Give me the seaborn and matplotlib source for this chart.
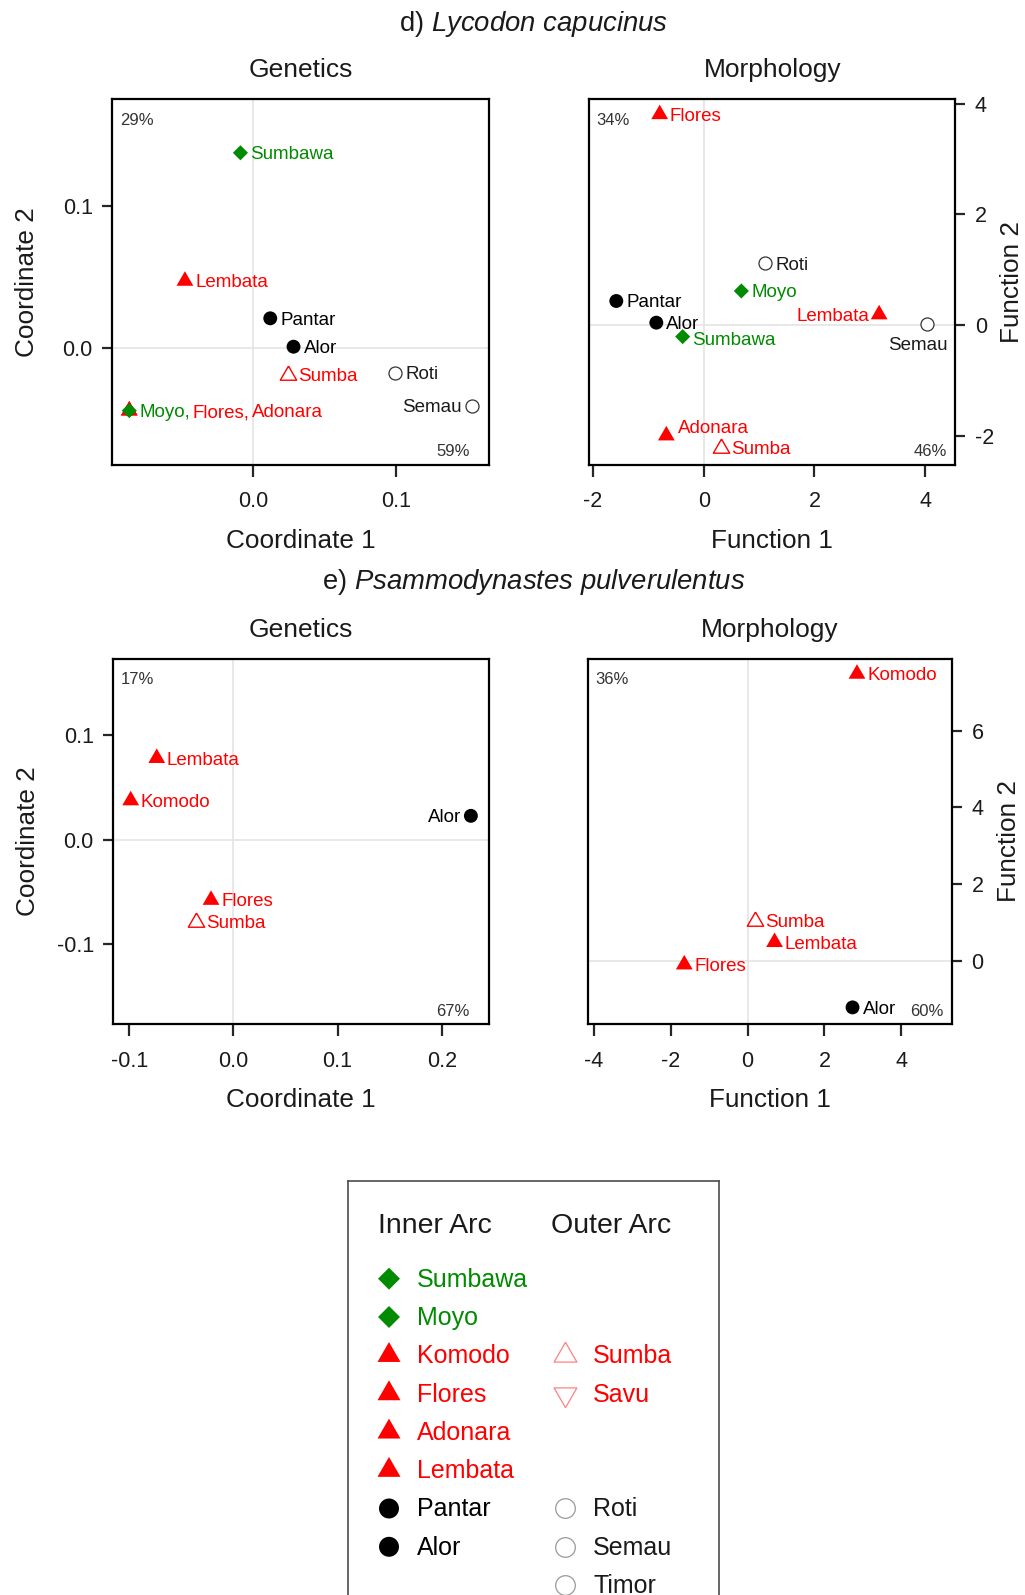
import matplotlib
matplotlib.use("Agg")
import matplotlib.pyplot as plt
from matplotlib.ticker import FormatStrFormatter
import numpy as np
import pandas as pd
import seaborn as sns

# ---------------------------------------------------------------- data
# d) Lycodon capucinus - genetics (PCoA)
lyc_gen_sites = ["Sumbawa", "Moyo", "Flores", "Adonara", "Lembata", "Pantar",
                 "Alor", "Sumba", "Roti", "Semau"]
lyc_gen_x = [-0.009, -0.0869, -0.0869, -0.0869, -0.0479, 0.0119,
             0.0282, 0.024, 0.0995, 0.1534]
lyc_gen_y = [0.137, -0.0437, -0.0437, -0.0437, 0.0472, 0.021,
             0.0011, -0.0187, -0.0171, -0.0402]
lyc_gen_pct = ["29%", "59%"]

# d) Lycodon capucinus - morphology (DFA)
lyc_mor_sites = ["Flores", "Roti", "Moyo", "Pantar", "Lembata", "Alor",
                 "Semau", "Sumbawa", "Adonara", "Sumba"]
lyc_mor_x = [-0.795, 1.113, 0.68, -1.579, 3.17, -0.856, 4.04, -0.38, -0.675, 0.318]
lyc_mor_y = [3.81, 1.115, 0.615, 0.434, 0.19, 0.042, 0.012, -0.21, -2.0, -2.22]
lyc_mor_pct = ["34%", "46%"]

# e) Psammodynastes pulverulentus - genetics (PCoA)
psa_gen_sites = ["Lembata", "Komodo", "Alor", "Flores", "Sumba"]
psa_gen_x = [-0.0735, -0.0985, 0.228, -0.0214, -0.0358]
psa_gen_y = [0.0782, 0.0377, 0.023, -0.0575, -0.0783]
psa_gen_pct = ["17%", "67%"]

# e) Psammodynastes pulverulentus - morphology (DFA)
psa_mor_sites = ["Komodo", "Sumba", "Lembata", "Flores", "Alor"]
psa_mor_x = [2.846, 0.18, 0.70, -1.65, 2.73]
psa_mor_y = [7.475, 1.06, 0.496, -0.087, -1.2]
psa_mor_pct = ["36%", "60%"]

# islands, arc membership and symbol group
island_names = ["Sumbawa", "Moyo", "Komodo", "Flores", "Adonara", "Lembata",
                "Pantar", "Alor", "Sumba", "Savu", "Roti", "Semau", "Timor"]
island_arc = ["Inner", "Inner", "Inner", "Inner", "Inner", "Inner",
              "Inner", "Inner", "Outer", "Outer", "Outer", "Outer", "Outer"]
island_group = ["diamond", "diamond", "triangle", "triangle", "triangle", "triangle",
                "circle", "circle", "open_triangle", "open_down",
                "open_circle", "open_circle", "open_circle"]

legend_inner_rows = [0, 1, 2, 3, 4, 5, 6, 7]
legend_outer_rows = [2, 3, 6, 7, 8]

# ---------------------------------------------------------------- style
sns.set_theme(style="ticks")
plt.rcParams.update({
    "font.family": ["Liberation Sans", "DejaVu Sans"],
    "mathtext.fontset": "custom",
    "mathtext.rm": "Liberation Sans",
    "mathtext.it": "Liberation Sans:italic",
    "axes.unicode_minus": False,
    "axes.edgecolor": "black",
    "axes.linewidth": 1.6,
    "figure.facecolor": "white",
})

RED = "#ff0000"
GREEN = "#008b00"
BLACK = "#000000"
TEXT_DARK = "#1a1a1a"
GRID = "#e2e2e2"
LABEL_SIZE = 13.5

group_color = {"diamond": GREEN, "triangle": RED, "circle": BLACK,
               "open_triangle": RED, "open_down": RED, "open_circle": TEXT_DARK}
site_group = dict(zip(island_names, island_group))
site_color = {n: group_color[g] for n, g in zip(island_names, island_group)}

# closed equilateral triangles centred on the centroid, and a square diamond
TRI_UP = [(0, 1), (-0.866, -0.5), (0.866, -0.5), (0, 1)]
TRI_DOWN = [(0, -1), (-0.866, 0.5), (0.866, 0.5), (0, -1)]
DIAMOND = [(0, 1), (1, 0), (0, -1), (-1, 0), (0, 1)]

PANEL_STYLE = {
    "open_circle": dict(marker="o", s=88, facecolor="white", edgecolor="#333333", linewidth=0.9),
    "circle": dict(marker="o", s=100, color=BLACK, edgecolor="none", linewidth=0),
    "open_triangle": dict(marker=TRI_UP, s=185, facecolor="white", edgecolor=RED, linewidth=1.0),
    "open_down": dict(marker=TRI_DOWN, s=185, facecolor="white", edgecolor=RED, linewidth=1.0),
    "triangle": dict(marker=TRI_UP, s=195, color=RED, edgecolor="none", linewidth=0),
    "diamond": dict(marker=DIAMOND, s=118, color=GREEN, edgecolor="none", linewidth=0),
}
LEGEND_STYLE = {
    "open_circle": dict(marker="o", s=200, facecolor="white", edgecolor="#9a9a9a", linewidth=0.9),
    "circle": dict(marker="o", s=207, color=BLACK, edgecolor="none", linewidth=0),
    "open_triangle": dict(marker=TRI_UP, s=360, facecolor="white", edgecolor="#ff8080", linewidth=0.9),
    "open_down": dict(marker=TRI_DOWN, s=360, facecolor="white", edgecolor="#ff8080", linewidth=0.9),
    "triangle": dict(marker=TRI_UP, s=366, color=RED, edgecolor="none", linewidth=0),
    "diamond": dict(marker=DIAMOND, s=250, color=GREEN, edgecolor="none", linewidth=0),
}
DRAW_ORDER = ["open_circle", "circle", "open_down", "open_triangle", "triangle", "diamond"]

# label placements (offset in points, horizontal alignment)
PLACE = {"r": (7.3, 0, "left"), "l": (-7.3, 0, "right"),
         "b": (-6.8, -13.7, "center"), "ur": (8.4, 6.7, "left"),
         "rd": (6.5, -1.7, "left")}

W, H = 1025, 1595
fig = plt.figure(figsize=(W / 100, H / 100), dpi=100)


def px_axes(x0, y0, x1, y1):
    return fig.add_axes([x0 / W, (H - y1) / H, (x1 - x0) / W, (y1 - y0) / H])


def label_point(ax, x, y, names, place):
    dx, dy, ha = PLACE[place]
    prev = None
    for i, name in enumerate(names):
        txt = name + ("," if i < len(names) - 1 else "")
        if prev is None:
            prev = ax.annotate(txt, xy=(x, y), xytext=(dx, dy), textcoords="offset points",
                               ha=ha, va="center_baseline", fontsize=LABEL_SIZE,
                               color=site_color[name], zorder=5)
        else:
            # continue on the same line, one narrow word space after the previous name
            prev = ax.annotate(txt, xy=(1, 0), xycoords=prev,
                               xytext=(0.12 * LABEL_SIZE, 0), textcoords="offset points",
                               ha="left", va="bottom", fontsize=LABEL_SIZE,
                               color=site_color[name], zorder=5)


def draw_panel(ax, sites, xs, ys, xlim, ylim, xticks, yticks, xlabel, ylabel, side,
               title, pct, pct_br_dx, places, fmt):
    df = pd.DataFrame({"site": sites, "x": xs, "y": ys})
    df["group"] = df["site"].map(site_group)
    ax.axhline(0, color=GRID, lw=1.1, zorder=0)
    ax.axvline(0, color=GRID, lw=1.1, zorder=0)
    for g in DRAW_ORDER:
        sub = df[df["group"] == g]
        if sub.empty:
            continue
        sns.scatterplot(data=sub, x="x", y="y", ax=ax, legend=False, zorder=3,
                        **PANEL_STYLE[g])
    for (x, y), grp in df.groupby(["x", "y"], sort=False):
        names = list(grp["site"])
        label_point(ax, x, y, names, places.get(names[0], "r"))

    ax.set_xlim(*xlim)
    ax.set_ylim(*ylim)
    ax.set_xticks(xticks)
    ax.set_yticks(yticks)
    ax.xaxis.set_major_formatter(FormatStrFormatter(fmt))
    ax.yaxis.set_major_formatter(FormatStrFormatter(fmt))
    ax.tick_params(axis="x", direction="out", length=8.4, width=1.6, pad=10.5,
                   labelsize=15.5, labelcolor=TEXT_DARK)
    ax.tick_params(axis="y", direction="out", length=7.5, width=1.6, pad=6.5,
                   labelsize=15.5, labelcolor=TEXT_DARK)
    if side == "right":
        ax.yaxis.tick_right()
        ax.yaxis.set_label_position("right")
    ax.set_xlabel(xlabel, fontsize=18.8, color=TEXT_DARK)
    ax.set_ylabel(ylabel, fontsize=18.8, color=TEXT_DARK)
    bb = ax.get_position()
    wpx = bb.width * W
    hpx = bb.height * H
    ax.xaxis.set_label_coords(0.5, -64.0 / hpx)
    if side == "right":
        ax.yaxis.set_label_coords(1 + 45.0 / wpx, 0.5)
    else:
        ax.yaxis.set_label_coords(-73.0 / wpx, 0.5)
    ax.set_title(title, fontsize=19, color=TEXT_DARK, pad=15.6)
    ax.annotate(pct[0], xy=(0, 1), xycoords="axes fraction", xytext=(5.3, -14.2),
                textcoords="offset points", ha="left", va="center_baseline",
                fontsize=12, color="#333333")
    ax.annotate(pct[1], xy=(1, 0), xycoords="axes fraction", xytext=(pct_br_dx, 10.5),
                textcoords="offset points", ha="right", va="center_baseline",
                fontsize=12, color="#333333")
    for sp in ax.spines.values():
        sp.set_color("black")
        sp.set_linewidth(1.6)


ax_lg = px_axes(112.3, 99, 489.3, 465)
ax_lm = px_axes(589.3, 99, 955.3, 465)
ax_pg = px_axes(113.3, 658.7, 488.7, 1024.3)
ax_pm = px_axes(588, 658.7, 952, 1024.3)

draw_panel(ax_lg, lyc_gen_sites, lyc_gen_x, lyc_gen_y, (-0.0988, 0.1654), (-0.0818, 0.1747),
           [0.0, 0.1], [0.0, 0.1], "Coordinate 1", "Coordinate 2", "left", "Genetics",
           lyc_gen_pct, -14.0, {"Semau": "l"}, "%.1f")
draw_panel(ax_lm, lyc_mor_sites, lyc_mor_x, lyc_mor_y, (-2.067, 4.546), (-2.532, 4.087),
           [-2, 0, 2, 4], [-2, 0, 2, 4], "Function 1", "Function 2", "right", "Morphology",
           lyc_mor_pct, -6.3, {"Lembata": "l", "Semau": "b", "Adonara": "ur", "Sumbawa": "rd"},
           "%d")
draw_panel(ax_pg, psa_gen_sites, psa_gen_x, psa_gen_y, (-0.1152, 0.2451), (-0.1764, 0.1733),
           [-0.1, 0.0, 0.1, 0.2], [-0.1, 0.0, 0.1], "Coordinate 1", "Coordinate 2", "left",
           "Genetics", psa_gen_pct, -14.0, {"Alor": "l"}, "%.1f")
draw_panel(ax_pm, psa_mor_sites, psa_mor_x, psa_mor_y, (-4.156, 5.319), (-1.64, 7.87),
           [-4, -2, 0, 2, 4], [0, 2, 4, 6], "Function 1", "Function 2", "right", "Morphology",
           psa_mor_pct, -6.0, {}, "%d")

# section headings
fig.text(533.3 / W, 1 - 30.7 / H, r"d) $\mathit{Lycodon\ capucinus}$",
         ha="center", va="baseline", fontsize=19.8, color=TEXT_DARK)
fig.text(533.3 / W, 1 - 589.0 / H, r"e) $\mathit{Psammodynastes\ pulverulentus}$",
         ha="center", va="baseline", fontsize=19.8, color=TEXT_DARK)

# ---------------------------------------------------------------- legend panel
LEG_TOP, LEG_BOTTOM = 1180.7, 1625.0
ax_leg = px_axes(348.3, LEG_TOP, 719.3, LEG_BOTTOM)
ax_leg.set_xticks([])
ax_leg.set_yticks([])
for sp in ax_leg.spines.values():
    sp.set_color("#4d4d4d")
    sp.set_linewidth(1.2)

ROW0, ROW_STEP = 1286.7, 38.3
ax_leg.text(378.3, 1232.7, "Inner Arc", fontsize=20.5, color=TEXT_DARK, va="baseline", ha="left")
ax_leg.text(550.7, 1232.7, "Outer Arc", fontsize=20.5, color=TEXT_DARK, va="baseline", ha="left")

inner = [n for n, a in zip(island_names, island_arc) if a == "Inner"]
outer = [n for n, a in zip(island_names, island_arc) if a == "Outer"]
leg = pd.concat([
    pd.DataFrame({"site": inner, "row": legend_inner_rows, "col": 0}),
    pd.DataFrame({"site": outer, "row": legend_outer_rows, "col": 1}),
], ignore_index=True)
leg["group"] = leg["site"].map(site_group)
leg["base"] = ROW0 + ROW_STEP * leg["row"]
leg["mx"] = np.where(leg["col"] == 0, 389.0, 565.0)
leg["my"] = leg["base"] - 8.0
leg["tx"] = np.where(leg["col"] == 0, 417.3, 593.3)

for g in DRAW_ORDER:
    sub = leg[leg["group"] == g]
    if sub.empty:
        continue
    sns.scatterplot(data=sub, x="mx", y="my", ax=ax_leg, legend=False, zorder=3,
                    **LEGEND_STYLE[g])
for _, r in leg.iterrows():
    col = site_color[r["site"]] if r["group"] != "open_circle" else TEXT_DARK
    ax_leg.text(r["tx"], r["base"], r["site"], fontsize=18, color=col,
                va="baseline", ha="left")
ax_leg.set_xlabel("")
ax_leg.set_ylabel("")
ax_leg.set_xlim(348.3, 719.3)
ax_leg.set_ylim(LEG_BOTTOM, LEG_TOP)

fig.savefig("out.png", dpi=100, facecolor="white")
